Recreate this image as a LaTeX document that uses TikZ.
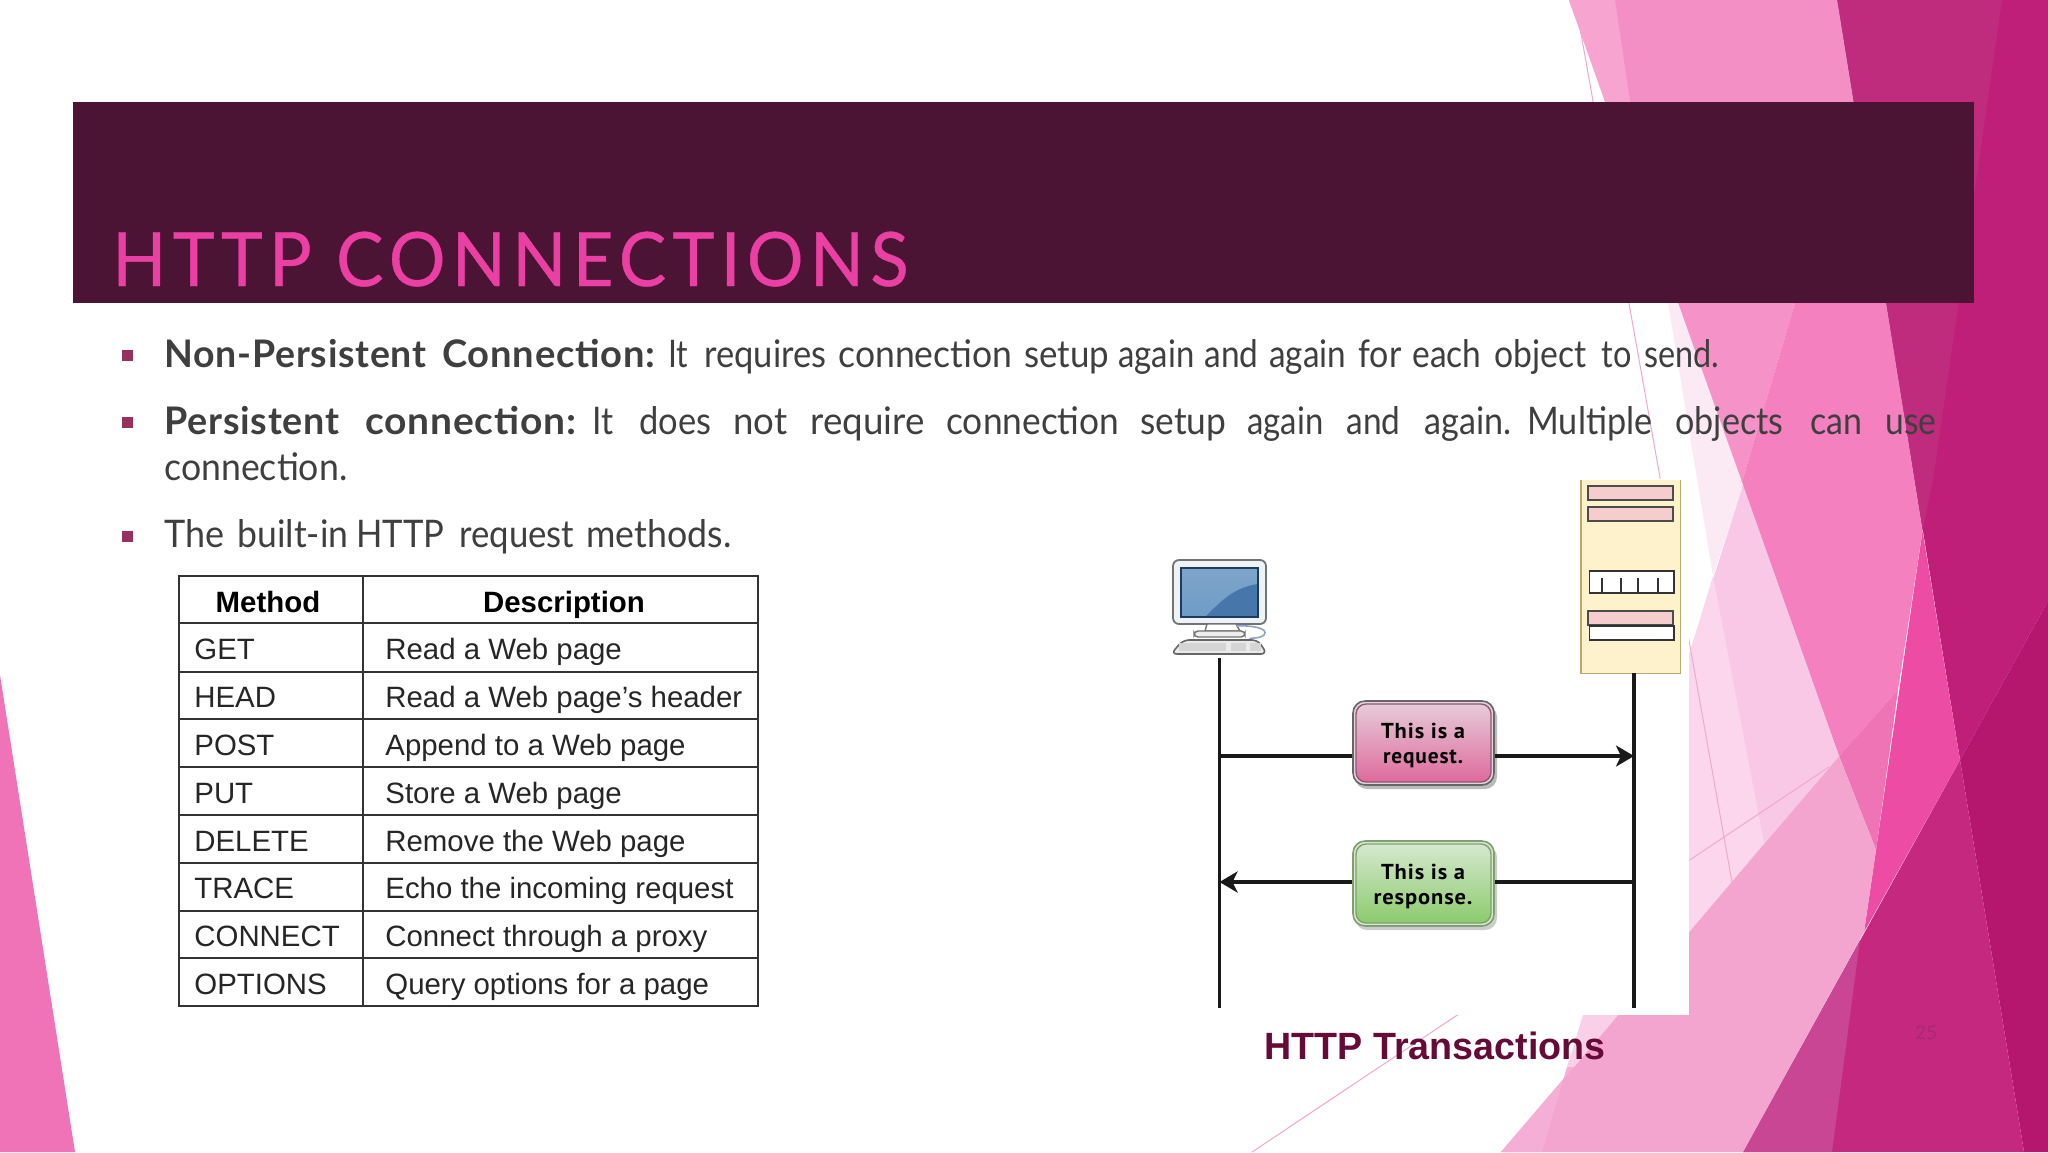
\documentclass[tikz,border=0pt]{standalone}
\usepackage{fontspec}
\usepackage{graphicx}
\setmainfont{Lato}
\newfontfamily\helv{Liberation Sans}
\newfontfamily\twt[LetterSpace=9,FakeBold=0.6]{Lato}
\newfontfamily\twb[LetterSpace=2]{Lato}
\newfontfamily\boxf[LetterSpace=4]{PT Sans}
\usetikzlibrary{arrows.meta}
\newlength\pxu
\pxu=0.5pt
\newcommand{\fitw}[2]{\resizebox{#1\pxu}{\height}{#2}}
\newcommand{\wrd}[3]{\rlap{\kern#1\pxu\fitw{#2}{#3}}}
\definecolor{banner}{HTML}{4B1434}
\definecolor{titlec}{HTML}{EA3FA3}
\definecolor{bodyc}{HTML}{3F3F3F}
\definecolor{bull}{HTML}{96305F}
\definecolor{capc}{HTML}{660A38}
\definecolor{F5CDCD}{HTML}{F5CDCD}
\definecolor{EEF3F8}{HTML}{EEF3F8}
\definecolor{88ABCD}{HTML}{7FA5CB}
\definecolor{6E9CC6}{HTML}{6E9CC6}
\definecolor{c20}{HTML}{4776AA}
\definecolor{c21}{HTML}{1F3A5F}
\definecolor{c22}{HTML}{8FA3C8}
\definecolor{c24}{HTML}{8A5A70}
\definecolor{c25}{HTML}{7F9F70}
\definecolor{c26}{HTML}{7F9F70}
\definecolor{EEEEEE}{HTML}{EEEEEE}
\definecolor{EAEAEA}{HTML}{EAEAEA}
\definecolor{D5D5D5}{HTML}{D5D5D5}
\definecolor{FDF2CC}{HTML}{FDF2CC}
\definecolor{B5AD6E}{HTML}{B5AD6E}
\definecolor{BBBBBB}{HTML}{BBBBBB}
\definecolor{CCCCCC}{HTML}{CCCCCC}
\definecolor{EAD0DD}{HTML}{EAD0DD}
\definecolor{E6CBD8}{HTML}{E6CBD8}
\definecolor{DE6A9D}{HTML}{DE6A9D}
\definecolor{D5E8CE}{HTML}{D5E8CE}
\definecolor{8CCB6D}{HTML}{8CCB6D}
\definecolor{A82A72}{HTML}{A82A72}
\tikzset{
  bg/.style={fill=#1,draw=none},
  body/.style={anchor=base west,inner sep=0pt,text=bodyc,font=\fontsize{19}{22}\selectfont},
  tline/.style={draw=black!80,line width=1.2pt},
  tcell/.style={anchor=base west,inner sep=0pt,text=black!85,font=\helv\fontsize{14.7}{17}\selectfont},
  thead/.style={anchor=base,inner sep=0pt,text=black,font=\helv\bfseries\fontsize{14.7}{17}\selectfont},
  life/.style={draw=black!90,line width=1.7pt},
  tipb/.style={-{Stealth[length=9pt,width=10.5pt,inset=2.5pt]}},
  slotp/.style={fill=F5CDCD,draw=black!70,line width=0.9pt},
  slotw/.style={fill=white,draw=black!80,line width=0.9pt},
  msgbox/.style={rounded corners=6pt,minimum width=70.5pt,inner sep=0pt},
  msgtext/.style={anchor=base,inner sep=0pt,text=black,font=\boxf\bfseries\fontsize{10.8}{12}\selectfont},
  thinl/.style={draw=#1,line width=0.5pt},
}
\begin{document}
\begin{tikzpicture}[x=0.5pt,y=-0.5pt]
\useasboundingbox (0,0) rectangle (2048,1152);
\fill[white] (0,0) rectangle (2048,1152);
% left triangle
\definecolor{c1}{HTML}{F073B8}\path[bg=c1] (0,675) -- (75,1152) -- (0,1152) -- cycle;
% right backgrounds
\definecolor{c2}{HTML}{C01F79}\path[bg=c2] (1837,0) -- (2048,0) -- (2048,601) -- (1960,760) -- cycle;
\definecolor{c3}{HTML}{BF2C7D}\path[bg=c3] (1837,0) -- (2002,0) -- (1933,480) -- (1922.5,531) -- cycle;
\definecolor{c4}{HTML}{B5176F}\path[bg=c4] (1960,760) -- (2048,601) -- (2048,1152) -- (2024,1152) -- cycle;
\definecolor{c5}{HTML}{C5287F}\path[bg=c5] (1960,760) -- (2024,1152) -- (1743,1152) -- cycle;
\definecolor{c6}{HTML}{C84693}\path[bg=c6] (1743,1152) -- (1860,940) -- (1832,1152) -- cycle;
\definecolor{c7}{HTML}{EC4CA4}\path[bg=c7] (1922.5,531) -- (1960,760) -- (1864,932) -- cycle;
\definecolor{c8}{HTML}{F48FC6}\path[bg=c8] (1569,0) -- (1837,0) -- (1886,303) -- (1678,303) -- cycle;
\definecolor{c9}{HTML}{F7A4D0}\path[bg=c9] (1569,0) -- (1615,0) -- (1630,102) -- (1605,102) -- cycle;
\definecolor{c10}{HTML}{F592C8}\path[bg=c10] (1678,303) -- (1795,303) -- (1741,485) -- cycle;
\definecolor{c11}{HTML}{F480BF}\path[bg=c11] (1795,303) -- (1886,303) -- (1922.5,531) -- (1898,690) -- (1839,756) -- (1741,485) -- cycle;
\definecolor{c12}{HTML}{EE74B5}\path[bg=c12] (1839,756) -- (1898,690) -- (1876,850) -- cycle;
\definecolor{c13}{HTML}{F3A5D0}\path[bg=c13] (1839,756) -- (1876,850) -- (1864,932) -- (1743,1152) -- (1501,1152) -- cycle;
\definecolor{c14}{HTML}{FBE9F4}\path[bg=c14] (1668,303) -- (1678,303) -- (1743,485) -- (1713,576) -- cycle;
\definecolor{c15}{HTML}{F8C8E6}\path[bg=c15] (1743,485) -- (1839,756) -- (1689,932) -- (1689,655) -- cycle;
\definecolor{c16}{HTML}{FBD6EC}\path[bg=c16] (1713,576) -- (1764,843) -- (1689,932) -- (1689,655) -- cycle;
\definecolor{c17}{HTML}{F9D0E8}\path[bg=c17] (1583,1015) -- (1618,1015) -- (1574,1067) -- (1567,1067) -- cycle;
\definecolor{c18}{HTML}{F5AFD7}\path[bg=c18] (1567,1067) -- (1574,1067) -- (1501,1152) -- (1542,1152) -- cycle;
% thin lines
\definecolor{c19}{HTML}{F0A8D0}
\coordinate (ta) at (1575,0);
\coordinate (tb) at (1769,1090);
\coordinate (tc) at (1829,767);
\coordinate (td) at (1252,1152);
\path[thinl=c19] (ta) -- (tb);
\path[thinl=c19] (tc) -- (td);
% white picture panel
\fill[white] (1150,479) rectangle (1689,1015);
% banner
\fill[banner] (73,102) rectangle (1974,303);
\node[anchor=base west,inner sep=0pt,text=titlec,font=\twt\fontsize{37.5}{40}\selectfont] (title) at (112,286) {\fitw{796}{HTTP CONNECTIONS}};
% bullets
\fill[bull] (122,350) rectangle (133,361);
\fill[bull] (122,417) rectangle (133,428);
\fill[bull] (122,531) rectangle (133,542);
% body text, word by word at the reference's spacing
\node[body] (b1a) at (163,367) {\twb\bfseries\wrd{0}{262}{Non-Persistent}\wrd{278}{213}{Connection:}};
\node[body] (b1b) at (667,367) {\wrd{0}{20}{It}\wrd{36}{122}{requires}\wrd{170}{174}{connection}\wrd{356}{85}{setup}\wrd{450}{76}{again}\wrd{536}{54}{and}\wrd{601}{77}{again}\wrd{690}{43}{for}\wrd{744}{69}{each}\wrd{826}{92}{object}\wrd{933}{30}{to}\wrd{976}{75}{send.}};
\node[body] (b2a) at (163,434) {\twb\bfseries\wrd{0}{175}{Persistent}\wrd{201}{211}{connection:}};
\node[body] (b2b) at (591,434) {\wrd{0}{21}{It}\wrd{47}{72}{does}\wrd{141}{54}{not}\wrd{218}{114}{require}\wrd{354}{173}{connection}\wrd{548}{86}{setup}\wrd{655}{76}{again}\wrd{754}{54}{and}\wrd{832}{87}{again.}\wrd{935}{125}{Multiple}\wrd{1083}{108}{objects}\wrd{1218}{52}{can}\wrd{1293}{51}{use}};
\node[body] (b3) at (164,480) {\fitw{183}{connection.}};
\node[body] (b4) at (163,547) {\wrd{0}{60}{The}\wrd{73}{111}{built-in}\wrd{192}{88}{HTTP}\wrd{295}{115}{request}\wrd{422}{145}{methods.}};
% table
\draw[tline] (179,576) rectangle (758,1006);
\draw[tline] (363,576) -- (363,1006);
\foreach \yy in {623,672,719,767,815,863,911,958} \draw[tline] (179,\yy) -- (758,\yy);
\node[thead] (hm) at (268,612) {Method};
\node[thead] (hd) at (564,612) {Description};
\node[tcell] (m1) at (194,659) {GET};
\node[tcell] (d1) at (385,659) {Read a Web page};
\node[tcell] (m2) at (194,707) {HEAD};
\node[tcell] (d2) at (385,707) {Read a Web page’s header};
\node[tcell] (m3) at (194,755) {POST};
\node[tcell] (d3) at (385,755) {Append to a Web page};
\node[tcell] (m4) at (194,803) {PUT};
\node[tcell] (d4) at (385,803) {Store a Web page};
\node[tcell] (m5) at (194,851) {DELETE};
\node[tcell] (d5) at (385,851) {Remove the Web page};
\node[tcell] (m6) at (194,898) {TRACE};
\node[tcell] (d6) at (385,898) {Echo the incoming request};
\node[tcell] (m7) at (194,946) {CONNECT};
\node[tcell] (d7) at (385,946) {Connect through a proxy};
\node[tcell] (m8) at (194,994) {OPTIONS};
\node[tcell] (d8) at (385,994) {Query options for a page};
% computer
\draw[draw=black!55,fill=EEF3F8,line width=0.9pt,rounded corners=3pt] (1173,560) rectangle (1266,624);
\shade[top color=88ABCD,bottom color=6E9CC6] (1181,568) rectangle (1258,617);
\fill[c20] (1258,584) .. controls (1235,587) and (1222,600) .. (1205,617) -- (1258,617) -- cycle;
\draw[draw=c21,line width=1pt] (1181,568) rectangle (1258,617);
\draw[draw=black!55,fill=white,line width=0.7pt] (1207,624) -- (1236,624) -- (1240,631) -- (1205,631) -- cycle;
\draw[draw=black!55,fill=EEEEEE,line width=0.7pt,rounded corners=2pt] (1194,631) rectangle (1245,637);
\draw[draw=c22,line width=0.8pt] (1236,626) .. controls (1250,625) and (1270,628) .. (1264,635) .. controls (1258,640) and (1248,636) .. (1249,641);
\draw[draw=black!60,fill=EAEAEA,line width=0.8pt,rounded corners=3pt] (1183,640) -- (1258,640) -- (1267,654) -- (1171,654) -- cycle;
\foreach \xa/\xb in {1179/1226,1231/1246,1250/1261} \fill[D5D5D5] (\xa,643) rectangle (\xb,651);
% server
\node[fill=FDF2CC,minimum width=49.5pt,minimum height=96.5pt,inner sep=0pt] (server) at (1630.5,576.5) {};
\draw[draw=B5AD6E,line width=0.9pt] (server.north west) -- (server.south west) -- (server.south east) -- (server.north east);
\draw[slotp] (1588,486) rectangle (1673,500);
\draw[slotp] (1588,507) rectangle (1673,521);
\draw[slotw] (1589.5,571) rectangle (1674,593);
\foreach \xx in {1602,1621,1638,1658} \draw[black!80,line width=0.7pt] (\xx,578) -- (\xx,593);
\draw[slotp] (1588,611) rectangle (1673,625);
\draw[slotw] (1589.5,626) rectangle (1674,640);
% lifelines
\coordinate (ct) at (1219.5,658);
\coordinate (cb) at (1219.5,1008);
\coordinate (st) at (1634,673);
\coordinate (sb) at (1634,1008);
\draw[life] (ct) -- (cb);
\draw[life] (st) -- (sb);
% message boxes
\fill[rounded corners=6pt,BBBBBB] (1355,705) rectangle (1497,789);
\node[msgbox,minimum height=42pt,draw=black!60,line width=0.8pt,fill=EAD0DD] (req) at (1423.5,743) {};
\shade[rounded corners=5pt,top color=E6CBD8,bottom color=DE6A9D,draw=c24,line width=0.7pt] (1356,704) rectangle (1491,782);
\node[msgtext] (t1) at (1423,738) {\fitw{84}{This is a}};
\node[msgtext] (t2) at (1423,763) {\fitw{80}{request.}};
\fill[rounded corners=6pt,CCCCCC] (1355,845) rectangle (1497,930);
\node[msgbox,minimum height=42.5pt,draw=c25,line width=0.8pt,fill=D5E8CE] (resp) at (1423.5,883.5) {};
\shade[rounded corners=5pt,top color=D5E8CE,bottom color=8CCB6D,draw=c26,line width=0.7pt] (1356,844) rectangle (1491,923);
\node[msgtext] (t3) at (1423,879) {\fitw{84}{This is a}};
\node[msgtext] (t4) at (1423,904) {\fitw{99}{response.}};
% messages
\coordinate (la) at (1219.5,756);
\coordinate (ra) at (1634,756);
\coordinate (lb) at (1219.5,882);
\coordinate (rb) at (1634,882);
\draw[life] (la) -- (la -| req.west);
\draw[life,tipb] (ra -| req.east) -- (ra);
\draw[life] (rb) -- (rb -| resp.east);
\draw[life,tipb] (lb -| resp.west) -- (lb);
% caption and page number
\node[anchor=base west,inner sep=0pt,text=capc,font=\helv\bfseries\fontsize{19}{22}\selectfont] (cap) at (1264,1059) {\fitw{341}{HTTP Transactions}};
\node[anchor=center,inner sep=0pt,text=A82A72,font=\fontsize{9.5}{11}\selectfont] (pg) at (1926,1033) {25};
\end{tikzpicture}
\end{document}
